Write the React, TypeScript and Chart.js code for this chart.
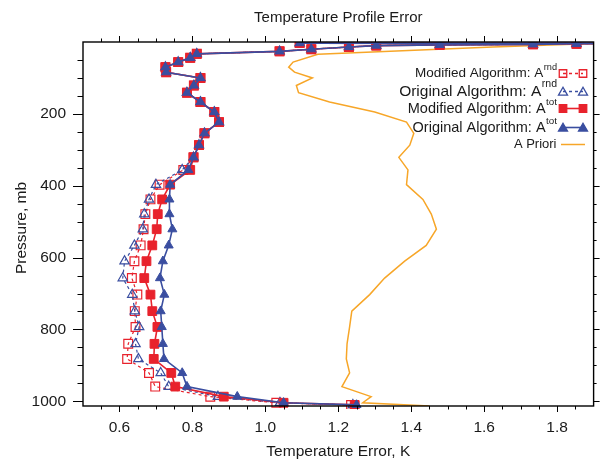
import React, { useEffect, useRef } from 'react';
import { Chart, registerables } from 'chart.js';

Chart.register(...registerables);

// ---------- data ----------
// pressure levels (mb) shared by the four algorithm series
const PRESSURE = [1010, 1004, 987, 959, 921, 882, 840, 793, 749, 703, 657, 610, 566, 521, 479, 438, 397, 356,
  321, 287, 254, 223, 195, 167, 141, 121, 100, 84, 70, 56, 44, 33, 26, 20, 14, 10, 8, 6.5, 5, 4, 3];

// upper levels (321 mb and above) where all four series coincide
const UPPER = [0.803, 0.818, 0.833, 0.873, 0.86, 0.822, 0.785, 0.804, 0.822, 0.728, 0.726, 0.761, 0.794, 0.812,
  1.039, 1.126, 1.229, 1.304, 1.478, 1.734, 1.853, 2.1, 1.094];

const MOD_RND = [1.235, 1.03, 0.849, 0.698, 0.681, 0.621, 0.624, 0.644, 0.642, 0.649, 0.634, 0.641, 0.658, 0.666, 0.671, 0.685, 0.71, 0.775, ...UPPER];
const ORIG_RND = [1.24, 1.04, 0.87, 0.735, 0.713, 0.652, 0.644, 0.654, 0.642, 0.635, 0.609, 0.614, 0.641, 0.664, 0.668, 0.681, 0.70, 0.772, ...UPPER];
const MOD_TOT = [1.245, 1.05, 0.886, 0.753, 0.742, 0.694, 0.696, 0.704, 0.69, 0.685, 0.668, 0.674, 0.69, 0.702, 0.705, 0.717, 0.739, 0.794, ...UPPER];
const ORIG_TOT = [1.25, 1.05, 0.923, 0.785, 0.772, 0.722, 0.719, 0.716, 0.713, 0.723, 0.711, 0.719, 0.735, 0.745, 0.737, 0.737, 0.739, 0.789, ...UPPER];

const APRIORI_P = [1013, 1004, 987, 959, 921, 882, 840, 793, 749, 703, 657, 610, 566, 521, 479, 438, 397, 356, 321,
  287, 254, 223, 195, 167, 141, 121, 100, 84, 70, 56, 34, 14, 2.5];
const APRIORI = [1.45, 1.267, 1.29, 1.21, 1.231, 1.222, 1.224, 1.231, 1.237, 1.286, 1.327, 1.382, 1.441, 1.469, 1.455,
  1.432, 1.387, 1.391, 1.366, 1.396, 1.407, 1.387, 1.30, 1.176, 1.091, 1.085, 1.129, 1.08, 1.064, 1.076, 1.144, 1.624, 1.95];

const X_MAJOR = [0.6, 0.8, 1.0, 1.2, 1.4, 1.6, 1.8];
const Y_MAJOR = [200, 400, 600, 800, 1000];
const X_MIN = 0.5, X_MAX = 1.9, Y_MIN = 0, Y_MAX = 1013;

const TITLE = 'Temperature Profile Error';
const X_TITLE = 'Temperature Error, K';
const Y_TITLE = 'Pressure, mb';

const LEGEND = [
  { base: 'Modified Algorithm: A', sup: 'rnd', size: 13.5, kind: 'modRnd' },
  { base: 'Original Algorithm: A', sup: 'rnd', size: 15.5, kind: 'origRnd' },
  { base: 'Modified Algorithm: A', sup: 'tot', size: 14.5, kind: 'modTot' },
  { base: 'Original Algorithm: A', sup: 'tot', size: 14.5, kind: 'origTot' },
  { base: 'A Priori', sup: '', size: 13, kind: 'apriori' },
];

// ---------- styles ----------
const RED = '#e8222c';
const BLUE = '#3a4ea0';
const ORANGE = '#f7a628';
const FONT = "'Liberation Sans', Arial, Helvetica, sans-serif";
const TEXT = '#1a1a1a';

const toPts = (xs: number[], ps: number[]) => xs.map((v, i) => ({ x: v, y: ps[i] }));

function drawMarker(ctx: CanvasRenderingContext2D, kind: string, x: number, y: number, r: number, filled: boolean, color: string) {
  ctx.save();
  ctx.beginPath();
  if (kind === 'rect') {
    const s = Math.SQRT1_2 * r;
    ctx.rect(x - s, y - s, 2 * s, 2 * s);
  } else {
    ctx.moveTo(x, y - r);
    ctx.lineTo(x + 0.866 * r, y + 0.5 * r);
    ctx.lineTo(x - 0.866 * r, y + 0.5 * r);
    ctx.closePath();
  }
  if (filled) {
    ctx.fillStyle = color;
    ctx.fill();
  }
  ctx.strokeStyle = color;
  ctx.lineWidth = 1.3;
  ctx.stroke();
  ctx.restore();
}

const framePlugin = {
  id: 'frame',
  afterDraw(chart: any) {
    const ctx: CanvasRenderingContext2D = chart.ctx;
    const { left, right, top, bottom } = chart.chartArea;
    const xs = chart.scales.x;
    const ys = chart.scales.y;
    ctx.save();
    // border
    ctx.strokeStyle = '#000';
    ctx.lineWidth = 1.4;
    ctx.strokeRect(left, top, right - left, bottom - top);
    // ticks
    ctx.lineWidth = 1;
    ctx.beginPath();
    for (let k = 1; k < 28; k++) {
      const v = X_MIN + k * 0.05;
      const major = X_MAJOR.some((m) => Math.abs(m - v) < 1e-6);
      const px = Math.round(xs.getPixelForValue(v)) + 0.5;
      const len = major ? 6 : 3.5;
      ctx.moveTo(px, bottom); ctx.lineTo(px, bottom + len);
      ctx.moveTo(px, top); ctx.lineTo(px, top - len);
    }
    for (let k = 1; k <= 20; k++) {
      const v = k * 50;
      const major = Y_MAJOR.includes(v);
      const py = Math.round(ys.getPixelForValue(v)) + 0.5;
      ctx.moveTo(left, py); ctx.lineTo(left - (major ? 10 : 5.5), py);
      ctx.moveTo(right, py); ctx.lineTo(right + (major ? 6 : 3), py);
    }
    ctx.stroke();

    // titles
    ctx.fillStyle = TEXT;
    ctx.textAlign = 'center';
    ctx.textBaseline = 'middle';
    ctx.font = `15px ${FONT}`;
    ctx.fillText(TITLE, (left + right) / 2, 18);
    ctx.font = `15.5px ${FONT}`;
    ctx.fillText(X_TITLE, (left + right) / 2, 452);
    ctx.save();
    ctx.translate(22, (top + bottom) / 2 + 4);
    ctx.rotate(-Math.PI / 2);
    ctx.fillText(Y_TITLE, 0, 0);
    ctx.restore();

    // legend
    const rowY = [73.5, 91.5, 108.5, 127.5, 144.5];
    const textRight = 557;
    const m1 = 563, m2 = 583;
    LEGEND.forEach((row, i) => {
      const y = rowY[i];
      ctx.textBaseline = 'middle';
      ctx.fillStyle = TEXT;
      let supW = 0;
      const supSize = row.size * 0.68;
      if (row.sup) {
        ctx.font = `${supSize}px ${FONT}`;
        supW = ctx.measureText(row.sup).width;
        ctx.textAlign = 'left';
        ctx.fillText(row.sup, textRight - supW, y - row.size * 0.45);
      }
      ctx.font = `${row.size}px ${FONT}`;
      ctx.textAlign = 'right';
      ctx.fillText(row.base, textRight - supW - 0.5, y);

      ctx.save();
      if (row.kind === 'apriori') {
        ctx.strokeStyle = ORANGE;
        ctx.lineWidth = 1.5;
        ctx.beginPath(); ctx.moveTo(m1 - 2, y); ctx.lineTo(m2 + 2, y); ctx.stroke();
      } else {
        const color = row.kind.startsWith('mod') ? RED : BLUE;
        const shape = row.kind.startsWith('mod') ? 'rect' : 'tri';
        const filled = row.kind.endsWith('Tot');
        const r = shape === 'rect' ? 5.3 : 5.2;
        ctx.strokeStyle = color;
        ctx.lineWidth = filled ? 1.6 : 1.3;
        if (!filled) ctx.setLineDash([3, 3]);
        ctx.beginPath(); ctx.moveTo(m1, y); ctx.lineTo(m2, y); ctx.stroke();
        ctx.setLineDash([]);
        const my = shape === 'tri' ? y + 1 : y;
        drawMarker(ctx, shape, m1, my, r, filled, color);
        drawMarker(ctx, shape, m2, my, r, filled, color);
      }
      ctx.restore();
    });
    ctx.restore();
  },
};

export default function App() {
  const ref = useRef<HTMLCanvasElement | null>(null);
  useEffect(() => {
    document.body.style.margin = '0';
    document.body.style.overflow = 'hidden';
    const canvas = ref.current!;
    const clip = { left: 0, top: 0, right: 0, bottom: 3 } as any;
    const chart = new Chart(canvas, {
      type: 'line',
      data: {
        datasets: [
          {
            label: 'Original Algorithm: A tot', data: toPts(ORIG_TOT, PRESSURE), borderColor: BLUE, backgroundColor: BLUE,
            borderWidth: 1.6, pointStyle: 'triangle', pointRadius: 5.2, pointBorderWidth: 1, pointBackgroundColor: BLUE,
            order: 1, clip,
          },
          {
            label: 'Modified Algorithm: A tot', data: toPts(MOD_TOT, PRESSURE), borderColor: RED, backgroundColor: RED,
            borderWidth: 1.6, pointStyle: 'rect', pointRadius: 6.2, pointBorderWidth: 1, pointBackgroundColor: RED,
            order: 2, clip,
          },
          {
            label: 'Original Algorithm: A rnd', data: toPts(ORIG_RND, PRESSURE), borderColor: BLUE, backgroundColor: 'rgba(0,0,0,0)',
            borderWidth: 1.2, borderDash: [3, 3], pointStyle: 'triangle', pointRadius: 5.4, pointBorderWidth: 1.2,
            pointBackgroundColor: 'rgba(0,0,0,0)', order: 3, clip,
          },
          {
            label: 'Modified Algorithm: A rnd', data: toPts(MOD_RND, PRESSURE), borderColor: RED, backgroundColor: 'rgba(0,0,0,0)',
            borderWidth: 1.2, borderDash: [3, 3], pointStyle: 'rect', pointRadius: 6.2, pointBorderWidth: 1.2,
            pointBackgroundColor: 'rgba(0,0,0,0)', order: 4, clip,
          },
          {
            label: 'A Priori', data: toPts(APRIORI, APRIORI_P), borderColor: ORANGE, backgroundColor: ORANGE,
            borderWidth: 1.5, pointRadius: 0, order: 5, clip: 0 as any,
          },
        ],
      },
      options: {
        animation: false,
        responsive: false,
        devicePixelRatio: 1,
        layout: { padding: { left: 8, right: 7, top: 42, bottom: 0 } },
        plugins: { legend: { display: false }, title: { display: false }, tooltip: { enabled: false } },
        elements: { line: { tension: 0 } },
        scales: {
          x: {
            type: 'linear', min: X_MIN, max: X_MAX,
            afterBuildTicks: (s: any) => { s.ticks = X_MAJOR.map((v) => ({ value: v })); },
            afterFit: (s: any) => { s.height = 55; },
            ticks: {
              color: TEXT, font: { family: FONT, size: 15.5 }, padding: 12, maxRotation: 0, autoSkip: false,
              callback: (v: any) => Number(v).toFixed(1),
            },
            grid: { display: false, drawTicks: false },
            border: { display: false },
          },
          y: {
            type: 'linear', reverse: true, min: Y_MIN, max: Y_MAX,
            afterBuildTicks: (s: any) => { s.ticks = Y_MAJOR.map((v) => ({ value: v })); },
            afterFit: (s: any) => { s.width = 75; },
            ticks: {
              color: TEXT, font: { family: FONT, size: 15.5 }, padding: 17, autoSkip: false,
              callback: (v: any) => String(v),
            },
            grid: { display: false, drawTicks: false },
            border: { display: false },
          },
        },
      },
      plugins: [framePlugin],
    });
    return () => chart.destroy();
  }, []);
  return <canvas ref={ref} width={601} height={461} style={{ width: 601, height: 461, display: 'block' }} />;
}
